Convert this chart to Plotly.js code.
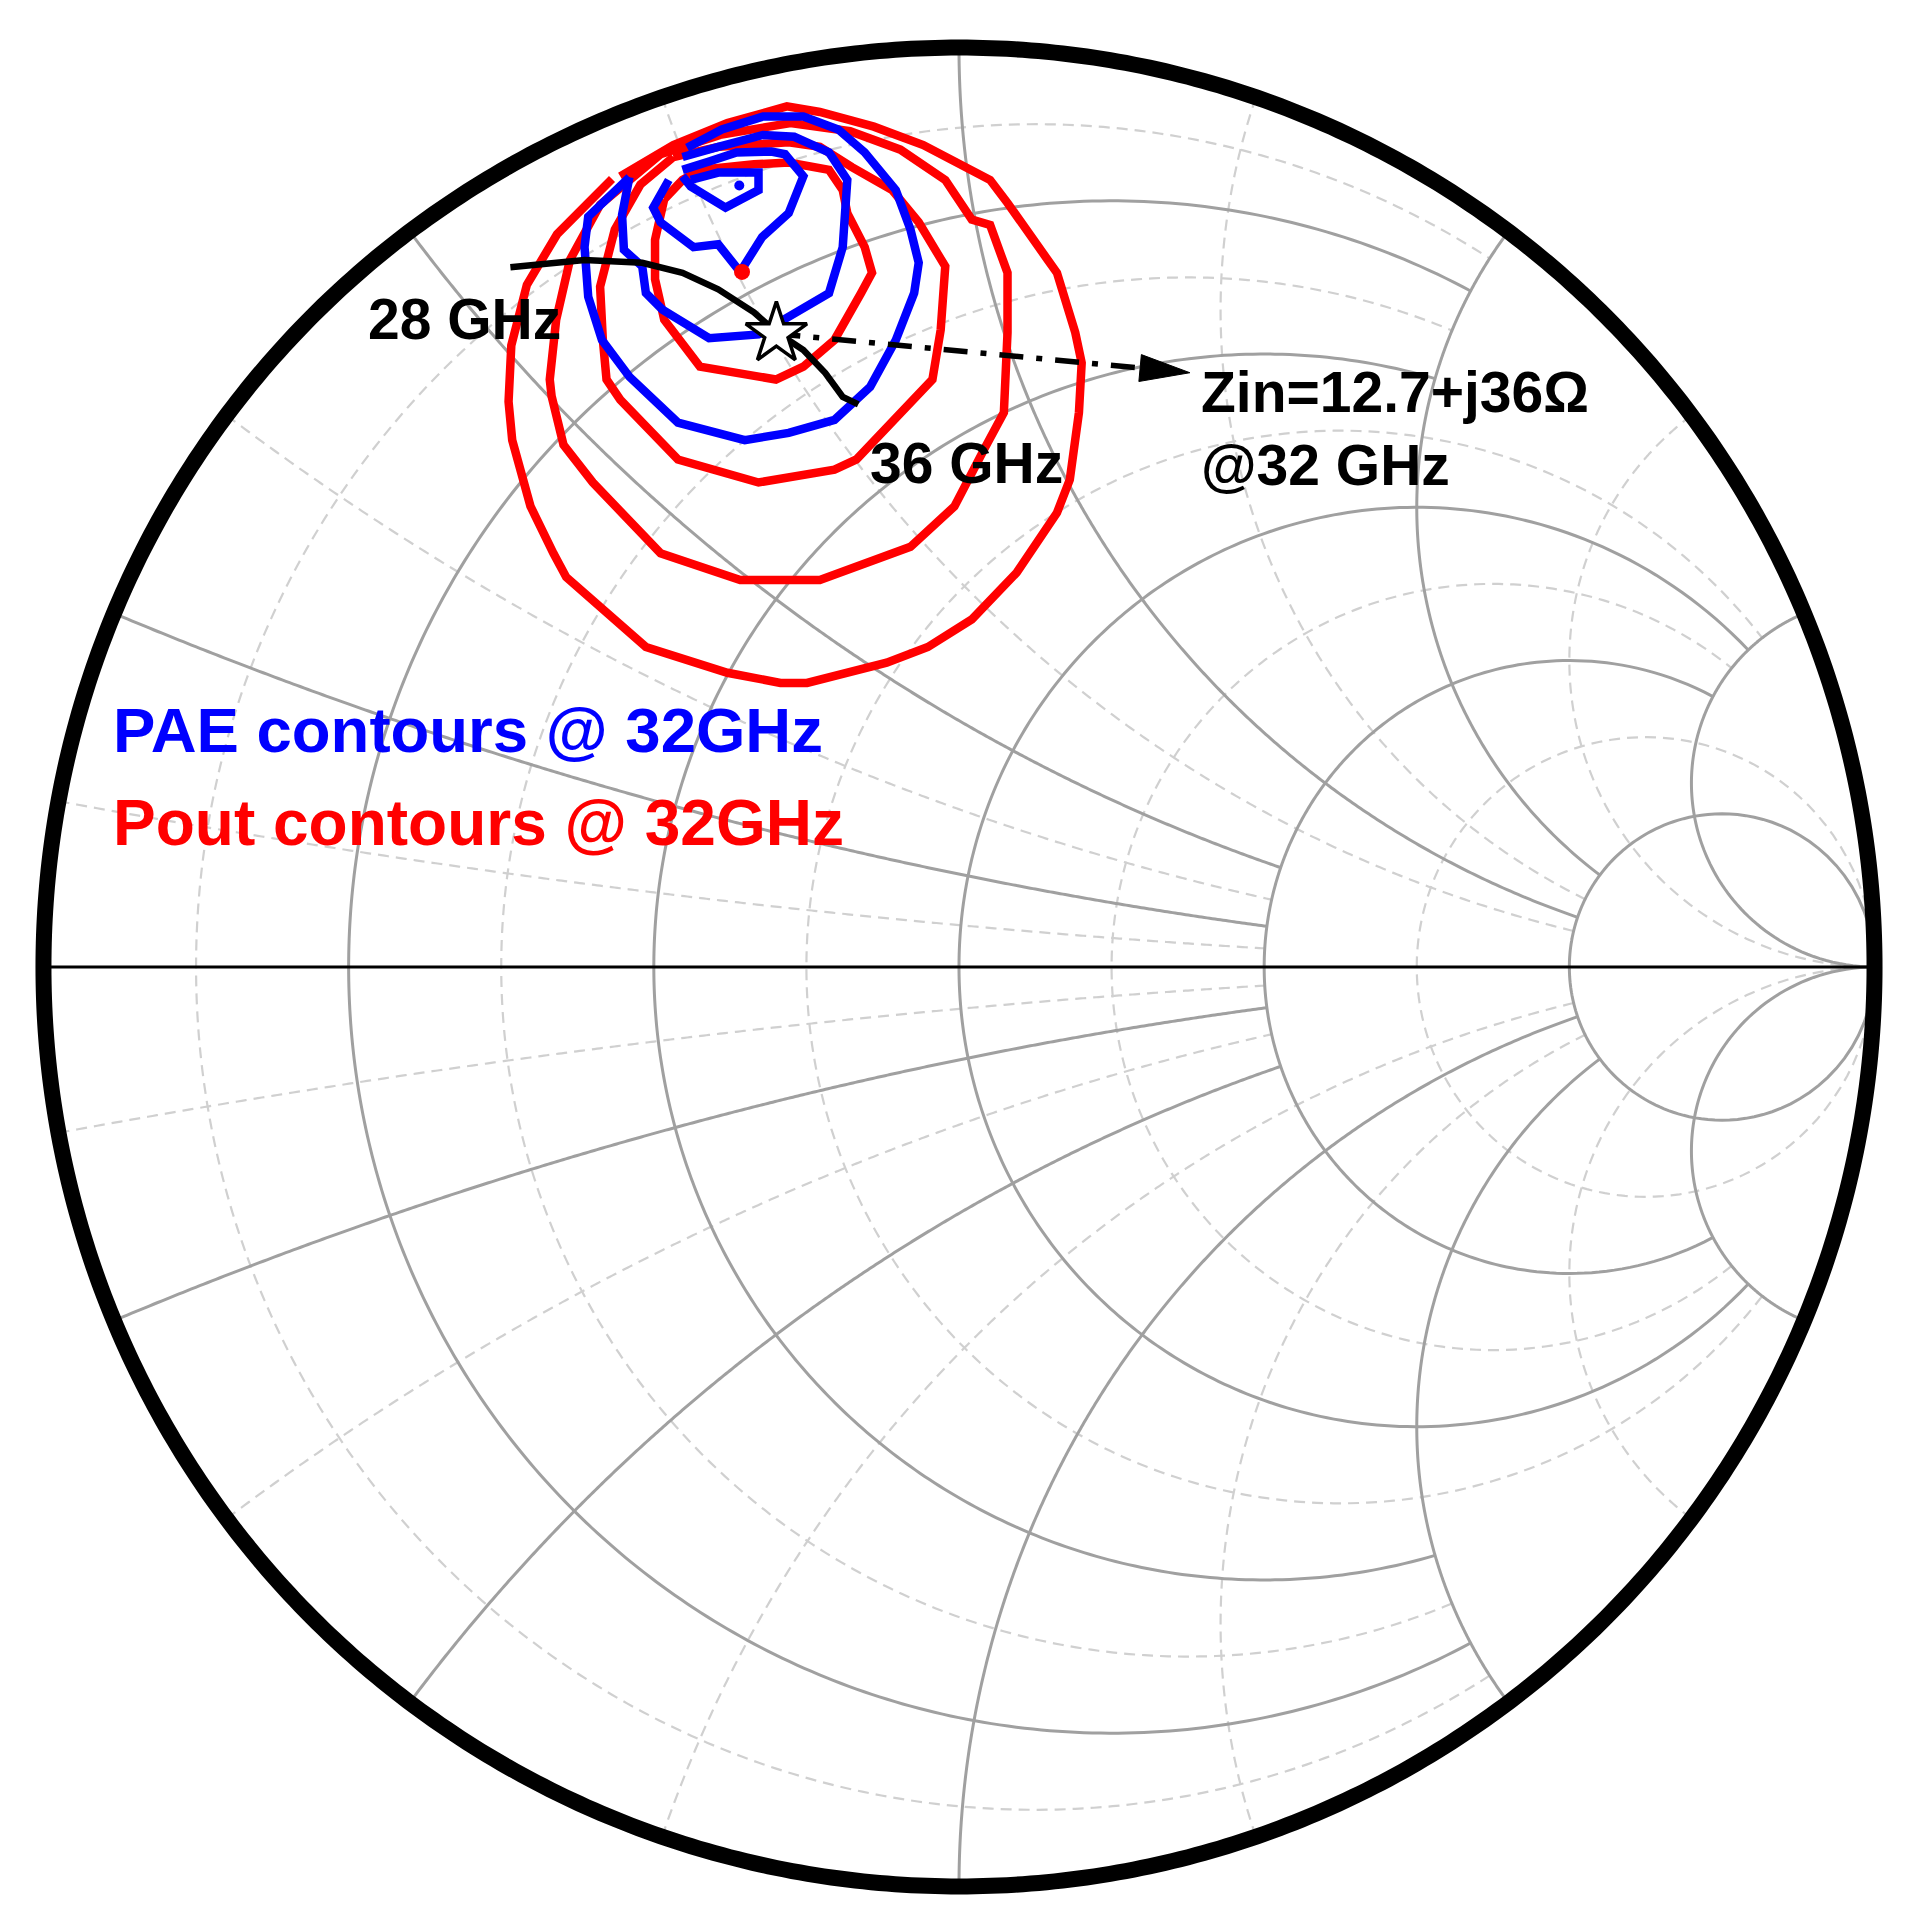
<!DOCTYPE html>
<html><head><meta charset="utf-8">
<script src="https://cdn.plot.ly/plotly-3.0.1.min.js"></script>
<style>html,body{margin:0;padding:0;background:#fff}</style>
</head><body><div id="chart" style="width:1918px;height:1930px"></div>
<script>
// ---------- Smith chart grid values (normalised r and x) ----------
const majorValues = [0.2, 0.5, 1, 2, 5];
const majorLimits = [2, 2, 5, 5, Infinity];
const minorValues = [1/11, 1/3, 5/7, 7/5, 3];
const minorLimits = [2, 2, 5, 5, Infinity];

// ---------- Data (reflection coefficient, real / imaginary) ----------
const Z0 = 50;
const zinOhm = [12.7, 36];          // Zin @ 32 GHz

// input impedance sweep 28 -> 36 GHz
const sweepRe = [-0.490,-0.409,-0.346,-0.302,-0.263,-0.224,-0.200,-0.170,-0.146,-0.127,-0.110];
const sweepIm = [0.761,0.769,0.766,0.755,0.737,0.712,0.691,0.671,0.646,0.620,0.612];

// Pout contours @ 32 GHz
const pout1Re = [-0.379,-0.439,-0.472,-0.489,-0.492,-0.488,-0.468,-0.443,-0.429,-0.342,-0.253,-0.195,-0.166,-0.079,-0.034,0.014,0.063,0.107,0.121,0.131,0.134,0.127,0.107,0.097,0.053,0.034,-0.039,-0.093,-0.152,-0.188,-0.253,-0.312,-0.370];
const pout1Im = [0.857,0.797,0.742,0.676,0.615,0.573,0.501,0.450,0.424,0.348,0.320,0.309,0.309,0.331,0.348,0.378,0.429,0.494,0.530,0.603,0.657,0.690,0.755,0.769,0.831,0.856,0.894,0.914,0.930,0.936,0.918,0.894,0.860];
const pout2Re = [-0.326,-0.392,-0.425,-0.440,-0.447,-0.445,-0.432,-0.400,-0.326,-0.239,-0.152,-0.053,-0.005,0.029,0.049,0.053,0.053,0.034,0.014,-0.015,-0.064,-0.119,-0.184,-0.261,-0.326];
const pout2Im = [0.884,0.829,0.769,0.704,0.639,0.621,0.568,0.527,0.450,0.421,0.421,0.457,0.501,0.566,0.603,0.690,0.755,0.807,0.813,0.856,0.889,0.909,0.918,0.905,0.884];
const pout3Re = [-0.312,-0.348,-0.376,-0.392,-0.389,-0.385,-0.370,-0.307,-0.219,-0.136,-0.112,-0.029,-0.020,-0.015,-0.044,-0.073,-0.117,-0.152,-0.186,-0.263,-0.312];
const pout3Im = [0.881,0.851,0.802,0.740,0.682,0.639,0.617,0.552,0.527,0.541,0.552,0.639,0.693,0.762,0.810,0.845,0.870,0.892,0.897,0.892,0.881];
const pout4Re = [-0.322,-0.332,-0.332,-0.322,-0.283,-0.200,-0.170,-0.136,-0.107,-0.095,-0.103,-0.122,-0.127,-0.142,-0.186,-0.224,-0.283,-0.302,-0.322];
const pout4Im = [0.835,0.791,0.748,0.704,0.653,0.639,0.653,0.682,0.733,0.755,0.783,0.820,0.845,0.867,0.875,0.873,0.867,0.856,0.835];
const poutPeak = [-0.237, 0.756];

// PAE contours @ 32 GHz
const pae1Re = [-0.360,-0.405,-0.409,-0.405,-0.390,-0.360,-0.307,-0.234,-0.186,-0.136,-0.097,-0.069,-0.049,-0.044,-0.053,-0.069,-0.103,-0.132,-0.170,-0.214,-0.259,-0.297];
const pae1Im = [0.859,0.816,0.783,0.729,0.682,0.642,0.592,0.573,0.581,0.595,0.631,0.682,0.733,0.766,0.802,0.845,0.886,0.911,0.925,0.925,0.911,0.891];
const pae2Re = [-0.360,-0.368,-0.366,-0.346,-0.342,-0.324,-0.273,-0.219,-0.142,-0.127,-0.122,-0.142,-0.180,-0.214,-0.263,-0.302];
const pae2Im = [0.859,0.818,0.780,0.762,0.733,0.715,0.684,0.688,0.733,0.783,0.856,0.886,0.903,0.905,0.892,0.881];
const pae3Re = [-0.317,-0.334,-0.326,-0.290,-0.263,-0.239,-0.215,-0.186,-0.170,-0.190,-0.205,-0.243,-0.273,-0.302];
const pae3Im = [0.856,0.826,0.810,0.783,0.786,0.756,0.794,0.820,0.860,0.884,0.887,0.886,0.876,0.867];
const pae4Re = [-0.302,-0.293,-0.255,-0.219,-0.219,-0.263,-0.293];
const pae4Im = [0.860,0.849,0.826,0.845,0.864,0.864,0.856];
const paePeak = [-0.240, 0.850];

// ---------- geometry helpers ----------
const CX = 959, CY = 967, RX = 916, RY = 919;       // chart centre / radius on the page
function px2g(px, py){ return [(px - CX) / RX, (CY - py) / RY]; }
function gammaOf(a, b){ const D = (a + 1) * (a + 1) + b * b; return [(a * a - 1 + b * b) / D, 2 * b / D]; }

function gridPath(values, limits){
  const xs = [], ys = [], N = 400;
  values.forEach((v, k) => {
    const L = limits[k];
    const m = isFinite(L) ? Math.atan(L) : Math.PI / 2 - 1e-4;
    for (let i = 0; i <= N; i++){ const g = gammaOf(v, Math.tan(-m + 2 * m * i / N)); xs.push(g[0]); ys.push(g[1]); }
    xs.push(null); ys.push(null);
    [1, -1].forEach(s => {
      for (let i = 0; i <= N; i++){ const g = gammaOf(Math.tan(m * i / N), s * v); xs.push(g[0]); ys.push(g[1]); }
      xs.push(null); ys.push(null);
    });
  });
  return {x: xs, y: ys};
}
const minorGrid = gridPath(minorValues, minorLimits);
const majorGrid = gridPath(majorValues, majorLimits);

const circX = [], circY = [];
for (let i = 0; i <= 720; i++){ const t = 2 * Math.PI * i / 720; circX.push(Math.cos(t)); circY.push(Math.sin(t)); }

const zStar = gammaOf(zinOhm[0] / Z0, zinOhm[1] / Z0);

// arrow geometry (page pixels -> chart coordinates)
const tipPx = [1190, 373], headLen = 50, headHalf = 13.5;
const startPx = [CX + zStar[0] * RX, CY - zStar[1] * RY];
const dx = tipPx[0] - startPx[0], dy = tipPx[1] - startPx[1], dl = Math.hypot(dx, dy);
const ux = dx / dl, uy = dy / dl;
const basePx = [tipPx[0] - ux * headLen, tipPx[1] - uy * headLen];
const headPts = [tipPx, [basePx[0] - uy * headHalf, basePx[1] + ux * headHalf], [basePx[0] + uy * headHalf, basePx[1] - ux * headHalf], tipPx].map(p => px2g(p[0], p[1]));
const baseG = px2g(basePx[0], basePx[1]);

const RED = '#ff0000', BLUE = '#0000ff';
function contour(re, im, color){ return {type: 'scatter', mode: 'lines', x: re, y: im, line: {color: color, width: 8.5, simplify: false}, hoverinfo: 'skip', showlegend: false}; }

const traces = [
  {type: 'scatter', mode: 'lines', x: minorGrid.x, y: minorGrid.y, line: {color: '#d0d0d0', width: 2.2, dash: '11px,7px', simplify: false}, hoverinfo: 'skip', showlegend: false},
  {type: 'scatter', mode: 'lines', x: majorGrid.x, y: majorGrid.y, line: {color: '#a0a0a0', width: 3, simplify: false}, hoverinfo: 'skip', showlegend: false},
  {type: 'scatter', mode: 'lines', x: [-1, 1], y: [0, 0], line: {color: '#000', width: 3}, hoverinfo: 'skip', showlegend: false},
  {type: 'scatter', mode: 'lines', x: circX, y: circY, line: {color: '#000', width: 16, simplify: false}, hoverinfo: 'skip', showlegend: false},
  contour(pout1Re, pout1Im, RED), contour(pout2Re, pout2Im, RED), contour(pout3Re, pout3Im, RED), contour(pout4Re, pout4Im, RED),
  contour(pae1Re, pae1Im, BLUE), contour(pae2Re, pae2Im, BLUE), contour(pae3Re, pae3Im, BLUE), contour(pae4Re, pae4Im, BLUE),
  {type: 'scatter', mode: 'markers', x: [poutPeak[0]], y: [poutPeak[1]], marker: {color: RED, size: 16}, showlegend: false},
  {type: 'scatter', mode: 'markers', x: [paePeak[0]], y: [paePeak[1]], marker: {color: BLUE, size: 10}, showlegend: false},
  {type: 'scatter', mode: 'lines', x: sweepRe, y: sweepIm, line: {color: '#000', width: 6.5, simplify: false}, showlegend: false},
  {type: 'scatter', mode: 'lines', x: [zStar[0], baseG[0]], y: [zStar[1], baseG[1]], line: {color: '#000', width: 5.5, dash: '24px,13px,6px,13px'}, showlegend: false},
  {type: 'scatter', mode: 'lines', x: headPts.map(p => p[0]), y: headPts.map(p => p[1]), fill: 'toself', fillcolor: '#000', line: {color: '#000', width: 1}, showlegend: false},
  {type: 'scatter', mode: 'markers', x: [zStar[0]], y: [zStar[1]], marker: {symbol: 'star', size: 46, color: '#fff', line: {color: '#000', width: 3.5}}, showlegend: false}
];

const FONT = 'Liberation Sans, Arial, sans-serif';
function label(text, px, baseline, size, color){
  const g = px2g(px, baseline - 0.35 * size);
  return {x: g[0], y: g[1], xref: 'x', yref: 'y', text: '<b>' + text + '</b>', showarrow: false, xanchor: 'left', yanchor: 'middle', font: {family: FONT, size: size, color: color}};
}

const annotations = [
  label('PAE contours @ 32GHz', 111, 752, 63.5, BLUE),
  label('Pout contours @ 32GHz', 111, 845, 64, RED),
  label('28 GHz', 366, 339, 57, '#000'),
  label('36 GHz', 868, 483, 57, '#000'),
  label('Zin=' + zinOhm[0] + '+j' + zinOhm[1] + 'Ω', 1199, 412, 57, '#000'),
  label('@32 GHz', 1199, 485, 57, '#000')
];

const xr = [-1.03, 1.03], yr = [-1.03, 1.03];
const plotW = (xr[1] - xr[0]) * RX, plotH = (yr[1] - yr[0]) * RY;
const ml = CX + xr[0] * RX, mt = CY - yr[1] * RY;
const layout = {
  width: 1918, height: 1930,
  margin: {l: ml, r: 1918 - ml - plotW, t: mt, b: 1930 - mt - plotH, pad: 0},
  paper_bgcolor: '#fff', plot_bgcolor: '#fff',
  xaxis: {range: xr, visible: false, fixedrange: true},
  yaxis: {range: yr, visible: false, fixedrange: true},
  annotations: annotations,
  showlegend: false
};
Plotly.newPlot('chart', traces, layout, {staticPlot: true, displayModeBar: false});
</script></body></html>
